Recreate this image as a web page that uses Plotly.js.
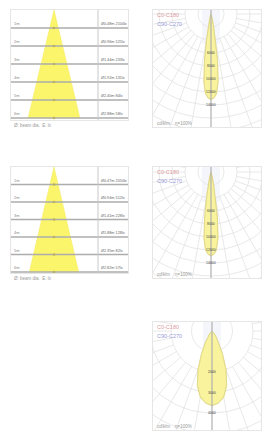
<!DOCTYPE html>
<html><head><meta charset="utf-8">
<script src="https://cdn.plot.ly/plotly-3.0.1.min.js"></script>
<style>html,body{margin:0;padding:0;background:#fff}#chart{width:264px;height:432px}</style>
</head><body><div id="chart"></div>
<script>
// ---------- DATA ----------
// Cone (illuminance) diagrams
const coneDistances = [1, 2, 3, 4, 5, 6];                 // m
const coneA_diameters = [0.48, 0.96, 1.44, 1.92, 2.40, 2.88]; // m
const coneA_lux = [2100, 525, 233, 131, 84, 58];
const coneB_diameters = [0.47, 0.94, 1.41, 1.88, 2.35, 2.82];
const coneB_lux = [2050, 512, 228, 128, 82, 57];

// Polar candela diagrams (cd/klm)
const polarAB_angles = [0, 2, 4, 6, 8, 10, 12, 15, 20, 30, 45, 60, 75, 90];
const polarA_C0  = [13200, 12950, 12280, 10560, 7260, 3960, 1980, 790, 260, 100, 40, 13, 5, 0];
const polarA_C90 = [13100, 12900, 12200, 10400, 7100, 3900, 1950, 780, 250, 95, 38, 12, 4, 0];
const polarB_C0  = [12900, 12700, 12050, 10350, 7100, 3880, 1940, 770, 250, 98, 39, 13, 5, 0];
const polarB_C90 = [12850, 12650, 11980, 10250, 7000, 3820, 1900, 760, 245, 95, 37, 12, 4, 0];
const polarA_ticks = [6000, 8000, 10000, 12000, 14000];

const polarC_angles = [0, 5, 10, 15, 20, 25, 30, 35, 40, 50, 60, 75, 90];
const polarC_C0  = [3650, 3540, 3290, 2770, 2010, 1200, 660, 365, 180, 75, 30, 10, 0];
const polarC_C90 = [3620, 3520, 3260, 2740, 1980, 1180, 650, 360, 175, 72, 28, 9, 0];
const polarC_ticks = [2000, 3000, 4000];

const legendLabels = ['C0-C180', 'C90-C270'];
const unitLabel = 'cd/klm    η=100%';

// ---------- BUILD ----------
const W = 264, H = 432;
const traces = [], annotations = [], shapes = [];
const layout = {
  width: W, height: H, margin: {l: 0, r: 0, t: 0, b: 0},
  paper_bgcolor: '#ffffff', plot_bgcolor: '#ffffff', showlegend: false,
  font: {family: 'Liberation Sans, Arial, sans-serif', size: 5, color: '#777'}
};
function axisBase() {
  return {showgrid: false, zeroline: false, showticklabels: false, ticks: '',
          showline: true, mirror: true, linecolor: '#e6e6e6', linewidth: 1, fixedrange: true};
}
function ids(i) { const s = i === 1 ? '' : String(i); return {xa: 'xaxis' + s, ya: 'yaxis' + s, x: 'x' + s, y: 'y' + s}; }

function addCone(i, box, cxPx, pxPerM, dist, diam, lux) {
  const a = ids(i);
  const xr = [(box.x0 - cxPx) / pxPerM, (box.x1 - cxPx) / pxPerM];
  layout[a.xa] = Object.assign(axisBase(), {domain: [box.x0 / W, box.x1 / W], range: xr, anchor: a.y});
  layout[a.ya] = Object.assign(axisBase(), {domain: [1 - box.y1 / H, 1 - box.y0 / H], range: [(box.y1 - box.y0) / pxPerM, 0], anchor: a.x});
  const halfR = diam.map(d => d / 2), halfL = diam.map(d => -d / 2).reverse();
  traces.push({type: 'scatter', mode: 'lines', xaxis: a.x, yaxis: a.y,
    x: [0].concat(halfR, halfL, [0]), y: [0].concat(dist, dist.slice().reverse(), [0]),
    fill: 'toself', fillcolor: '#fbf56c', line: {color: '#f3ea5a', width: 0.5}, hoverinfo: 'skip'});
  dist.forEach((d, k) => {
    traces.push({type: 'scatter', mode: 'lines', xaxis: a.x, yaxis: a.y, x: xr, y: [d, d],
      line: {color: '#adadad', width: 1.6}, hoverinfo: 'skip'});
    annotations.push({xref: a.x, yref: a.y, x: xr[0] + 0.05, y: d, text: d + 'm', showarrow: false,
      xanchor: 'left', yanchor: 'bottom', font: {size: 4, color: '#888'}});
    annotations.push({xref: a.x, yref: a.y, x: (99 - cxPx) / pxPerM, y: d,
      text: 'Ø' + diam[k].toFixed(2) + 'm ' + lux[k] + 'lx', showarrow: false,
      xanchor: 'left', yanchor: 'bottom', font: {size: 3.8, color: '#666'}});
  });
  traces.push({type: 'scatter', mode: 'markers', xaxis: a.x, yaxis: a.y, x: dist.map(() => 0), y: dist,
    marker: {size: 2.5, color: '#b8b060'}, hoverinfo: 'skip'});
  shapes.push({type: 'line', xref: a.x, yref: a.y + ' domain', x0: (98 - cxPx) / pxPerM, x1: (98 - cxPx) / pxPerM,
    y0: 0, y1: 1, line: {color: '#c8c8c8', width: 1}});
  annotations.push({xref: 'paper', yref: 'paper', x: (box.x0 + 1) / W, y: 1 - (box.y1 + 1) / H,
    text: 'Ø: beam dia.  E: lx', showarrow: false, xanchor: 'left', yanchor: 'top', font: {size: 4.5, color: '#999'}});
}

function addPolar(i, box, c, unitsPerPx, step, angles, c0, c90, ticks) {
  const a = ids(i);
  const xr = [(box.x0 - c.x) * unitsPerPx, (box.x1 - c.x) * unitsPerPx];
  const yr = [-(box.y1 - c.y) * unitsPerPx, (c.y - box.y0) * unitsPerPx];
  layout[a.xa] = Object.assign(axisBase(), {domain: [box.x0 / W, box.x1 / W], range: xr, anchor: a.y});
  layout[a.ya] = Object.assign(axisBase(), {domain: [1 - box.y1 / H, 1 - box.y0 / H], range: yr, anchor: a.x});
  const Rmax = 180 * unitsPerPx;
  // light strip above/around the centre
  shapes.push({type: 'rect', xref: a.x, yref: a.y, x0: -9 * unitsPerPx, x1: 9 * unitsPerPx, y0: -30 * unitsPerPx, y1: yr[1],
    fillcolor: 'rgba(225,225,245,0.35)', line: {width: 0}, layer: 'below'});
  for (let r = step; r <= Rmax; r += step) {
    const xs = [], ys = [];
    for (let t = 0; t <= 360; t += 3) { xs.push(r * Math.sin(t * Math.PI / 180)); ys.push(-r * Math.cos(t * Math.PI / 180)); }
    traces.push({type: 'scatter', mode: 'lines', xaxis: a.x, yaxis: a.y, x: xs, y: ys,
      line: {color: '#e2e2e2', width: 0.8}, hoverinfo: 'skip'});
  }
  const r0 = 2 * step;
  for (let t = 10; t < 360; t += 10) {
    if (t === 180) continue;
    const s = Math.sin(t * Math.PI / 180), co = Math.cos(t * Math.PI / 180);
    traces.push({type: 'scatter', mode: 'lines', xaxis: a.x, yaxis: a.y,
      x: [r0 * s, Rmax * s], y: [-r0 * co, -Rmax * co],
      line: {color: '#e2e2e2', width: 0.8}, hoverinfo: 'skip'});
  }
  function curve(vals) {
    const xs = [], ys = [];
    for (let k = angles.length - 1; k >= 0; k--) { const t = -angles[k] * Math.PI / 180; xs.push(vals[k] * Math.sin(t)); ys.push(-vals[k] * Math.cos(t)); }
    for (let k = 1; k < angles.length; k++) { const t = angles[k] * Math.PI / 180; xs.push(vals[k] * Math.sin(t)); ys.push(-vals[k] * Math.cos(t)); }
    return {x: xs, y: ys};
  }
  const k0 = curve(c0), k90 = curve(c90);
  traces.push({type: 'scatter', mode: 'lines', xaxis: a.x, yaxis: a.y, x: k0.x, y: k0.y, fill: 'toself',
    fillcolor: '#f8f39c', line: {color: '#e2d878', width: 0.8}, hoverinfo: 'skip'});
  traces.push({type: 'scatter', mode: 'lines', xaxis: a.x, yaxis: a.y, x: k90.x, y: k90.y,
    line: {color: '#d8d090', width: 0.5}, hoverinfo: 'skip'});
  traces.push({type: 'scatter', mode: 'lines', xaxis: a.x, yaxis: a.y, x: [0, 0], y: [yr[1], yr[0]],
    line: {color: '#b0b0b0', width: 1.2}, hoverinfo: 'skip'});
  ticks.forEach(t => annotations.push({xref: a.x, yref: a.y, x: 0, y: -t, text: String(t), showarrow: false,
    font: {size: 3.5, color: '#444'}}));
  annotations.push({xref: 'paper', yref: 'paper', x: (box.x0 + 2) / W, y: 1 - (box.y0 + 5) / H, text: legendLabels[0],
    showarrow: false, xanchor: 'left', yanchor: 'middle', font: {size: 5.5, color: '#dc9a9a'}});
  annotations.push({xref: 'paper', yref: 'paper', x: (box.x0 + 2) / W, y: 1 - (box.y0 + 14) / H, text: legendLabels[1],
    showarrow: false, xanchor: 'left', yanchor: 'middle', font: {size: 5.5, color: '#9a9ad8'}});
  annotations.push({xref: 'paper', yref: 'paper', x: (box.x0 + 2) / W, y: 1 - (box.y1 - 4) / H, text: unitLabel,
    showarrow: false, xanchor: 'left', yanchor: 'middle', font: {size: 4.5, color: '#999'}});
}

addCone(1, {x0: 11, x1: 128, y0: 10, y1: 120}, 54, 18, coneDistances, coneA_diameters, coneA_lux);
addPolar(2, {x0: 153, x1: 261, y0: 10, y1: 127}, {x: 211, y: 14}, 2000 / 13, 2000, polarAB_angles, polarA_C0, polarA_C90, polarA_ticks);
addCone(3, {x0: 11, x1: 128, y0: 167, y1: 273}, 54, 17.5, coneDistances, coneB_diameters, coneB_lux);
addPolar(4, {x0: 153, x1: 261, y0: 167, y1: 278}, {x: 211, y: 172}, 2000 / 13, 2000, polarAB_angles, polarB_C0, polarB_C90, polarA_ticks);
addPolar(5, {x0: 153, x1: 261, y0: 322, y1: 430}, {x: 212, y: 331}, 1000 / 20.5, 1000, polarC_angles, polarC_C0, polarC_C90, polarC_ticks);

layout.annotations = annotations;
layout.shapes = shapes;
Plotly.newPlot('chart', traces, layout, {staticPlot: true, displayModeBar: false});
</script></body></html>
